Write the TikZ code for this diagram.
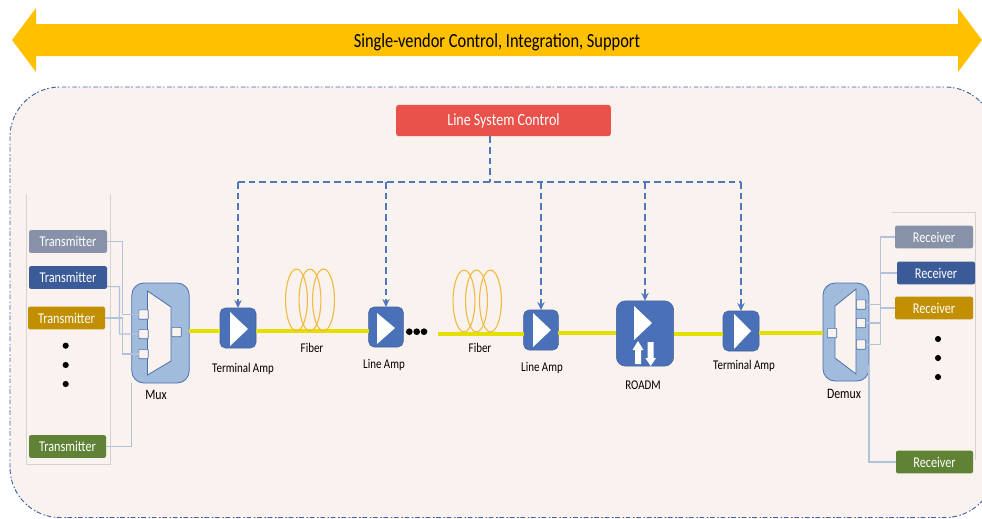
\documentclass[tikz,border=0pt]{standalone}
\usepackage{fontspec}
\setmainfont[FakeStretch=0.82]{Carlito}
\usetikzlibrary{arrows.meta}
\definecolor{panelbg}{HTML}{F9F2EE}
\definecolor{edgeblue}{HTML}{4A6FAE}
\definecolor{rimblue}{HTML}{3F62A6}
\definecolor{dashblue}{HTML}{4F78BC}
\definecolor{ampblue}{HTML}{4A71B8}
\definecolor{muxblue}{HTML}{A0BBDB}
\definecolor{fiberyel}{HTML}{E3E000}
\definecolor{coilyel}{HTML}{F2B93B}
\definecolor{connc}{HTML}{B3C2DC}
\definecolor{frameg}{HTML}{D5D3D0}
\definecolor{gbox}{HTML}{8792A8}
\definecolor{bbox}{HTML}{3A5A98}
\definecolor{obox}{HTML}{C18F00}
\definecolor{lbox}{HTML}{5F8235}
\tikzset{
  x=0.75pt,y=-0.75pt,
  px/.style={inner sep=0pt,outer sep=0pt},
  tagbox/.style={px,rounded corners=1.5pt,text=white,minimum width=#1*0.75pt,minimum height=17pt},
  amp/.style={px,draw=ampblue!85!black,fill=ampblue,rounded corners=4pt},
  muxbody/.style={px,draw=edgeblue,line width=0.6pt,fill=muxblue,rounded corners=9pt},
  port/.style={px,draw=edgeblue,line width=0.5pt,fill=panelbg,rounded corners=0.6pt,minimum width=7pt,minimum height=7pt},
  conn/.style={draw=connc,line width=0.8pt},
  fiber/.style={draw=fiberyel,line width=3pt},
  ctrl/.style={draw=dashblue,line width=1.05pt,dash pattern=on 5pt off 3pt},
  ctrlarrow/.style={ctrl,-{Stealth[length=6pt,width=5.5pt]}},
  coil/.style={draw=coilyel,line width=0.8pt},
  lab/.style={px,font=\fontsize{10}{12}\selectfont,text=black},
  biglab/.style={px,font=\fontsize{10.8}{12}\selectfont,text=black},
  wtri/.style={fill=white,draw=none},
  frameline/.style={draw=frameg,line width=0.6pt},
  blob/.style={fill=black,draw=none}
}
\newcommand{\txT}{\fontsize{11.2}{12}\selectfont\raisebox{-1.2pt}{Transmitter}}
\newcommand{\txR}{\fontsize{11.2}{12}\selectfont\raisebox{-1.2pt}{Receiver}}
\begin{document}
\begin{tikzpicture}
\useasboundingbox (0,0) rectangle (982,518);
% top arrow
\fill[fill={rgb,255:red,255;green,192;blue,0}] (12,40) -- (36,8) -- (36,24) -- (958,24) -- (958,8) -- (982,40) -- (958,72) -- (958,56) -- (36,56) -- (36,72) -- cycle;
\node[px,font=\fontsize{15}{16}\selectfont,text=black] (toplabel) at (497,42) {Single-vendor Control, Integration, Support};
% main panel
\path[fill=panelbg,draw=rimblue,line width=0.7pt,dash pattern=on 3.5pt off 1.2pt on 1.2pt off 2pt,rounded corners=37.5pt] (10,517.5) rectangle (995,87);
% side frames
\draw[frameline] (26,194) -- (26,464) -- (110,464) -- (110,194);
\draw[frameline] (892,212) -- (975,212) -- (975,460);
% control
\node[px,fill={rgb,255:red,232;green,82;blue,74},rounded corners=2pt,minimum width=161pt,minimum height=23.5pt,text=white,font=\fontsize{12.8}{14}\selectfont] (lsc) at (503.5,120.5) {\raisebox{-1.6pt}{Line System Control}};
\coordinate (hub) at (490,182);
% equipment bodies
\node[amp,minimum width=27pt,minimum height=30pt] (ta1) at (238,328) {};
\node[amp,minimum width=26pt,minimum height=30pt] (la1) at (386,327) {};
\node[amp,minimum width=26pt,minimum height=30pt] (la2) at (541,330) {};
\node[amp,rounded corners=7pt,minimum width=43pt,minimum height=49pt] (roadm) at (645,333.5) {};
\node[amp,minimum width=27pt,minimum height=30pt] (ta2) at (741,331) {};
\node[muxbody,minimum width=43pt,minimum height=75pt] (mux) at (160.5,333) {};
\node[muxbody,minimum width=34.5pt,minimum height=73.5pt] (demux) at (846,332) {};
% fibers
\coordinate (f2start) at (438,333.5);
\draw[fiber] (mux.east |- 0,330.5) -- (ta1.west |- 0,330.5);
\draw[fiber] (ta1.east |- 0,330.5) -- (la1.west |- 0,330.5);
\draw[fiber] (f2start) -- (la2.west |- f2start);
\draw[fiber] (la2.east |- 0,332.5) -- (roadm.west |- 0,332.5);
\draw[fiber] (roadm.east |- 0,333.5) -- (ta2.west |- 0,333.5);
\draw[fiber] (ta2.east |- 0,333) -- (demux.west |- 0,333);
% coils
\foreach \cx in {296.5,310,323.5} \draw[coil] (\cx,300) ellipse (8.2pt and 23.2pt);
\foreach \cx in {464,476.5,490.5} \draw[coil] (\cx,301) ellipse (8.2pt and 23.2pt);
% dashed control
\draw[ctrl] (lsc.south -| hub) -- (hub);
\draw[ctrl] (ta1.north |- hub) -- (ta2.north |- hub);
\draw[ctrlarrow] (ta1.north |- hub) -- (ta1.north);
\draw[ctrlarrow] (la1.north |- hub) -- (la1.north);
\draw[ctrlarrow] (la2.north |- hub) -- (la2.north);
\draw[ctrlarrow] (roadm.north |- hub) -- (roadm.north);
\draw[ctrlarrow] (ta2.north |- hub) -- (ta2.north);
% amp triangles
\fill[wtri] (230,312) -- (248,329) -- (230,346) -- cycle;
\fill[wtri] (377,313) -- (395,328) -- (377,344) -- cycle;
\fill[wtri] (533,313) -- (551,330) -- (533,347) -- cycle;
\fill[wtri] (734,314) -- (751,331) -- (734,349) -- cycle;
\fill[wtri] (634,306) -- (652,323) -- (634,340) -- cycle;
\fill[wtri] (638,341) -- (643.5,350) -- (641,350) -- (641,364) -- (635,364) -- (635,350) -- (632.5,350) -- cycle;
\fill[wtri] (650.7,366) -- (656,358) -- (653.7,358) -- (653.7,342) -- (647.7,342) -- (647.7,358) -- (645.3,358) -- cycle;
% mux
\path[fill=panelbg,draw=edgeblue,line width=0.6pt] (147.5,291) -- (171,307) -- (171,361) -- (147.5,375) -- cycle;
\node[port] (mi1) at (143.5,314.5) {};
\node[port] (mi2) at (143.5,334) {};
\node[port] (mi3) at (143.5,354) {};
\node[port] (mo) at (176.5,332) {};
% demux
\path[fill=panelbg,draw=edgeblue,line width=0.6pt] (856,289) -- (835,306) -- (835,358) -- (856,374) -- cycle;
\node[port] (di) at (832,333) {};
\node[port] (do1) at (861,304.5) {};
\node[port] (do2) at (861,323) {};
\node[port] (do3) at (861,344.5) {};
% transmitters
\node[tagbox=78,fill=gbox] (t1) at (68,241.5) {\txT};
\node[tagbox=78,fill=bbox] (t2) at (68,277.5) {\txT};
\node[tagbox=77,fill=obox] (t3) at (66.5,318) {\txT};
\node[tagbox=77,fill=lbox] (t4) at (67.5,446.5) {\txT};
\coordinate (mt1) at (122.7,0);
\coordinate (mt2) at (119.5,0);
\draw[conn] (t1.east) -- (mt1 |- t1.east) -- (mt1 |- mi1.west) -- (mi1.west);
\draw[conn] (t2.east) ++(0,9) -- (mt2 |- 0,286.7) -- (mt2 |- mi2.west) -- (mi2.west);
\draw[conn] (t3.east) -- (mt1 |- t3.east) -- (mt1 |- mi3.west) -- (mi3.west);
\draw[conn] (t4.east) -| (mux.south west);
% receivers
\node[tagbox=78,fill=gbox] (r1) at (934,237) {\txR};
\node[tagbox=78,fill=bbox] (r2) at (936,273) {\txR};
\node[tagbox=78,fill=obox] (r3) at (934,308) {\txR};
\node[tagbox=77,fill=lbox] (r4) at (934.5,462) {\txR};
\coordinate (dt) at (880.7,0);
\draw[conn] (r1.west) -- (dt |- r1.west) -- (dt |- do3.east) -- (do3.east);
\draw[conn] (r2.west) -- (dt |- r2.west);
\draw[conn] (r3.west) -- (dt |- r3.west);
\draw[conn] (do1.east) -- (dt |- do1.east);
\draw[conn] (do2.east) -- (dt |- do2.east);
\draw[conn] (r4.west) -| ([yshift=12pt]demux.south east);
% dots
\foreach \yy in {345.7,365,384} \fill[blob] (65.7,\yy) circle (2.3pt);
\foreach \yy in {339,358,377} \fill[blob] (938,\yy) circle (2.3pt);
\foreach \xx in {409.3,416.7,424} \fill[blob] (\xx,331.7) circle (2.5pt);
% labels
\node[lab] (l1) at (243,368.5) {Terminal Amp};
\node[biglab] (l2) at (156,395) {Mux};
\node[lab] (l3) at (312,347.5) {Fiber};
\node[lab] (l4) at (384,364.5) {Line Amp};
\node[lab] (l5) at (480,347.5) {Fiber};
\node[lab] (l6) at (542,367.5) {Line Amp};
\node[lab] (l7) at (643,385) {ROADM};
\node[lab] (l8) at (744,365.5) {Terminal Amp};
\node[biglab] (l9) at (844,394) {Demux};
\end{tikzpicture}
\end{document}
